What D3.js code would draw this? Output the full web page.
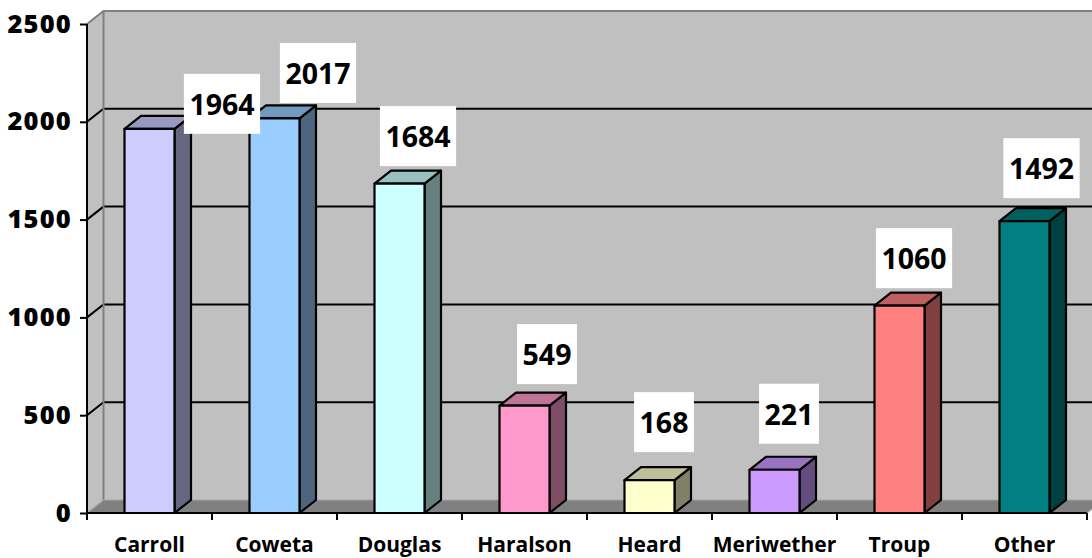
<!DOCTYPE html>
<html>
<head>
<meta charset="utf-8">
<script src="https://cdn.jsdelivr.net/npm/d3@7"></script>
<style>
  html, body { margin: 0; padding: 0; background: #ffffff; }
  svg { display: block; }
  text { font-family: "Open Sans", "Noto Sans", sans-serif; font-weight: bold; fill: #000; }
</style>
</head>
<body>
<svg id="chart" width="1092" height="558"></svg>
<script>
// ---- data ----
const categories = ["Carroll", "Coweta", "Douglas", "Haralson", "Heard", "Meriwether", "Troup", "Other"];
const values = [1964, 2017, 1684, 549, 168, 221, 1060, 1492];
const barColors = ["#CCCCFF", "#99CCFF", "#CCFFFF", "#FF99CC", "#FFFFCC", "#CC99FF", "#FF8080", "#008080"];
const yTicks = [0, 500, 1000, 1500, 2000, 2500];

// ---- layout (not data) ----
const pLeft = 87, pRight = 1087, pTop = 24, pBottom = 513;
const depthX = 16.5, depthY = -13;
// label box placement relative to the bar (centre x offset, bottom offset from bar top)
const labelNudge = [[72.5, 5], [43.5, -15.5], [18.5, -17.5], [22.5, -21.5], [14.5, -28], [14.5, -26], [14.5, -17.5], [17, -23]];

const svg = d3.select("#chart");

const x = d3.scaleBand().domain(categories).range([pLeft, pRight]).padding(0);
const y = d3.scaleLinear().domain([0, 2500]).range([pBottom, pTop]);
const barW = x.bandwidth() * 0.4;

const shade = (c, k) => {
  const r = d3.rgb(c);
  return d3.rgb(r.r * k, r.g * k, r.b * k).formatHex();
};

// ---- walls ----
const wallRight = pRight + depthX + 20;
svg.append("rect")
  .attr("x", pLeft + depthX).attr("y", pTop + depthY)
  .attr("width", wallRight - (pLeft + depthX)).attr("height", pBottom - pTop)
  .attr("fill", "#c0c0c0");
svg.append("polygon")
  .attr("points", [[pLeft, pTop], [pLeft + depthX, pTop + depthY], [pLeft + depthX, pBottom + depthY], [pLeft, pBottom]].join(" "))
  .attr("fill", "#c0c0c0");
yTicks.filter(t => t > 0 && t < 2500).forEach(t => {
  svg.append("polyline")
    .attr("points", [[pLeft, y(t)], [pLeft + depthX, y(t) + depthY], [wallRight, y(t) + depthY]].join(" "))
    .attr("fill", "none").attr("stroke", "#000").attr("stroke-width", 2);
});
svg.append("polyline")
  .attr("points", [[pLeft, pTop], [pLeft + depthX, pTop + depthY], [wallRight, pTop + depthY]].join(" "))
  .attr("fill", "none").attr("stroke", "#808080").attr("stroke-width", 2);
svg.append("line")
  .attr("x1", pLeft + depthX).attr("x2", pLeft + depthX)
  .attr("y1", pTop + depthY).attr("y2", pBottom + depthY)
  .attr("stroke", "#808080").attr("stroke-width", 2);
svg.append("polygon")
  .attr("points", [[pLeft, pBottom], [pLeft + depthX, pBottom + depthY], [pRight + depthX, pBottom + depthY], [pRight, pBottom]].join(" "))
  .attr("fill", "#808080");
svg.append("polyline")
  .attr("points", [[pLeft, pBottom], [pLeft + depthX, pBottom + depthY], [pRight + depthX, pBottom + depthY], [pRight, pBottom]].join(" "))
  .attr("fill", "none").attr("stroke", "#a6a6a6").attr("stroke-width", 1.2);

// ---- bars ----
const bars = svg.append("g");
categories.forEach((c, i) => {
  const v = values[i];
  const cx = x(c) + x.bandwidth() / 2;
  const x0 = cx - barW / 2, x1 = cx + barW / 2;
  const yt = y(v), yb = y(0);
  const g = bars.append("g").attr("stroke", "#000").attr("stroke-width", 2.2).attr("stroke-linejoin", "round");
  g.append("polygon")
    .attr("points", [[x1, yt], [x1 + depthX, yt + depthY], [x1 + depthX, yb + depthY], [x1, yb]].join(" "))
    .attr("fill", shade(barColors[i], 0.5));
  g.append("polygon")
    .attr("points", [[x0, yt], [x0 + depthX, yt + depthY], [x1 + depthX, yt + depthY], [x1, yt]].join(" "))
    .attr("fill", shade(barColors[i], 0.75));
  g.append("rect")
    .attr("x", x0).attr("y", yt).attr("width", barW).attr("height", yb - yt)
    .attr("fill", barColors[i]);
});

// ---- axes ----
const yAxis = svg.append("g").attr("transform", `translate(${pLeft},0)`)
  .call(d3.axisLeft(y).tickValues(yTicks).tickSize(7).tickPadding(8).tickFormat(d3.format("d")));
yAxis.select(".domain").attr("stroke", "#000").attr("stroke-width", 2).attr("d", `M0,${pTop}V${pBottom}`);
yAxis.selectAll(".tick line").attr("stroke", "#000").attr("stroke-width", 2);
yAxis.selectAll(".tick text").attr("font-size", 25.5).attr("letter-spacing", 1.2)
  .style("font-family", "'Open Sans', sans-serif").style("font-weight", "800").attr("fill", "#000");

const xAxis = svg.append("g").attr("transform", `translate(0,${pBottom})`)
  .call(d3.axisBottom(x).tickSize(0).tickPadding(24));
xAxis.select(".domain").attr("stroke", "#000").attr("stroke-width", 2).attr("d", `M${pLeft},0H${pRight}`);
xAxis.selectAll(".tick text").attr("font-size", 21)
  .style("font-family", "'Open Sans', sans-serif").style("font-weight", "bold").attr("fill", "#000");
const bounds = categories.map(c => x(c)).concat([pRight]);
xAxis.selectAll(".bound").data(bounds).enter().append("line")
  .attr("class", "bound").attr("x1", d => d).attr("x2", d => d).attr("y1", 0).attr("y2", 7)
  .attr("stroke", "#000").attr("stroke-width", 2);

// ---- data labels ----
const labels = svg.append("g");
categories.forEach((c, i) => {
  const cx = x(c) + x.bandwidth() / 2 + labelNudge[i][0];
  const by = y(values[i]) + labelNudge[i][1];
  const g = labels.append("g");
  const rect = g.append("rect").attr("fill", "#fff");
  const t = g.append("text").text(values[i])
    .attr("x", cx).attr("text-anchor", "middle").attr("font-size", 28.5)
    .attr("y", by - 30).attr("dominant-baseline", "central");
  const w = t.node().getComputedTextLength() + 11;
  rect.attr("x", cx - w / 2).attr("y", by - 60).attr("width", w).attr("height", 60);
});
</script>
</body>
</html>
